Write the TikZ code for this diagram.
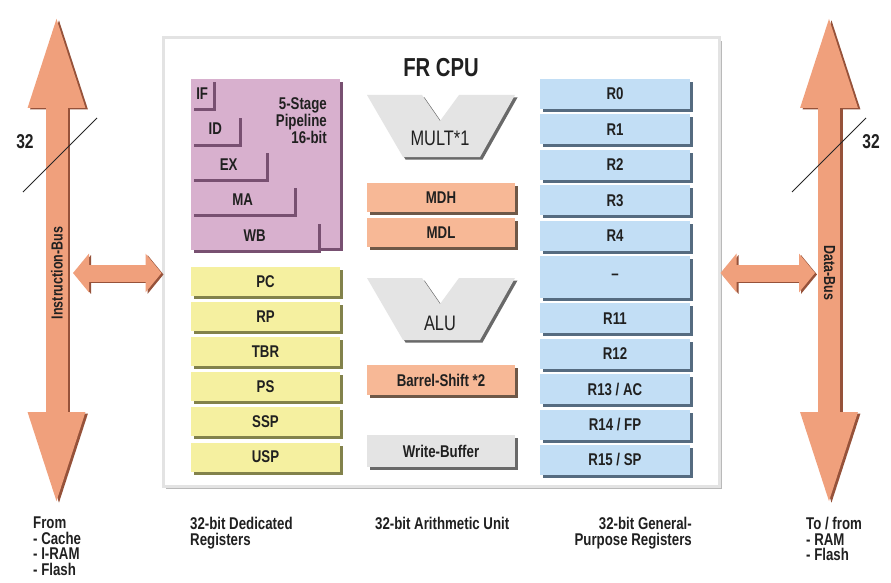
\documentclass[tikz,border=0pt]{standalone}
\usepackage{fontspec}
\newfontfamily\condfont{Liberation Sans}[FakeStretch=0.78]
\usepackage{tikz}
\usetikzlibrary{positioning,arrows.meta,shadows,calc}

\definecolor{pipefill}{RGB}{216,176,206}
\definecolor{pipeedge}{RGB}{120,80,113}
\definecolor{dedfill}{RGB}{245,240,160}
\definecolor{dededge}{RGB}{130,130,75}
\definecolor{aritfill}{RGB}{247,184,150}
\definecolor{aritedge}{RGB}{110,88,72}
\definecolor{gprfill}{RGB}{194,222,245}
\definecolor{gpredge}{RGB}{85,107,128}
\definecolor{unitfill}{RGB}{228,228,228}
\definecolor{unitedge}{RGB}{105,105,105}
\definecolor{busfill}{RGB}{240,160,124}
\definecolor{busedge}{RGB}{150,82,58}
\definecolor{txt}{RGB}{32,32,32}

\tikzset{
  lab/.style={font=\condfont\bfseries\fontsize{17}{17}\selectfont, text=txt},
  note/.style={lab, font=\condfont\bfseries\fontsize{17}{15.5}\selectfont, align=left, anchor=north west, inner sep=0pt},
  cpubox/.style={fill=white, draw=gray!22, line width=3pt, minimum width=556pt, minimum height=448pt,
    drop shadow={shadow xshift=3pt, shadow yshift=-3pt, opacity=1, fill=gray!55}},
  pipe/.style={lab, fill=pipefill, minimum height=29pt, inner sep=0pt,
    drop shadow={shadow xshift=3pt, shadow yshift=-3pt, opacity=1, fill=pipeedge}},
  ded/.style={lab, fill=dedfill, minimum width=149pt, minimum height=29pt, inner sep=0pt,
    drop shadow={shadow xshift=3pt, shadow yshift=-3pt, opacity=1, fill=dededge}},
  arit/.style={lab, fill=aritfill, minimum width=148pt, minimum height=29pt, inner sep=0pt,
    drop shadow={shadow xshift=3pt, shadow yshift=-3pt, opacity=1, fill=aritedge}},
  unit/.style={lab, fill=unitfill, minimum width=148pt, minimum height=32pt, inner sep=0pt,
    drop shadow={shadow xshift=3pt, shadow yshift=-3pt, opacity=1, fill=unitedge}},
  gpr/.style={lab, fill=gprfill, minimum width=150pt, minimum height=30pt, inner sep=0pt,
    drop shadow={shadow xshift=3pt, shadow yshift=-3pt, opacity=1, fill=gpredge}},
  unitlab/.style={font=\condfont\fontsize{21}{21}\selectfont, text=txt},
  bus/.style={line width=22pt, color=busfill, {Triangle[width=50pt,length=98pt]}-{Triangle[width=50pt,length=98pt]}},
  link/.style={line width=17pt, color=busfill, {Triangle[width=38pt,length=16pt]}-{Triangle[width=38pt,length=16pt]}}
}

\begin{document}
\begin{tikzpicture}[x=1pt,y=-1pt]
  \useasboundingbox (0,0) rectangle (891,583);

  % CPU frame
  \node[cpubox] (cpu) at (441,262) {};
  \node[font=\condfont\bfseries\fontsize{26}{26}\selectfont, text=txt] (title) at (441,67.5) {FR CPU};

  % pipeline
  \node[pipe, minimum width=149pt, minimum height=169pt] (pipe) at (265.5,163.5) {};
  \node[pipe, minimum width=22pt, anchor=north west] (ifst) at (191,79) {IF};
  \node[pipe, minimum width=48pt, below right=6pt and 0pt of ifst.south west] (idst) {ID};
  \node[pipe, minimum width=75pt, below right=6pt and 0pt of idst.south west] (exst) {EX};
  \node[pipe, minimum width=103pt, below right=6pt and 0pt of exst.south west] (mast) {MA};
  \node[pipe, minimum width=127pt, below right=6pt and 0pt of mast.south west] (wbst) {WB};
  \node[lab, align=right, anchor=north east, inner sep=0pt, font=\condfont\bfseries\fontsize{17}{16.8}\selectfont] (pipetxt) at (327,97.5) {5-Stage\\Pipeline\\16-bit};

  % dedicated registers
  \node[ded] (pc) at (265.5,281.5) {PC};
  \node[ded, below=5.7pt of pc] (rp) {RP};
  \node[ded, below=5.7pt of rp] (tbr) {TBR};
  \node[ded, below=5.7pt of tbr] (ps) {PS};
  \node[ded, below=5.7pt of ps] (ssp) {SSP};
  \node[ded, below=5.7pt of ssp] (usp) {USP};

  % arithmetic unit
  \fill[unitedge] (369.5,97.5) -- (424.5,97.5) -- (442.5,123.5) -- (461.5,97.5) -- (517.5,97.5) -- (482.5,159.5) -- (405.5,159.5) -- cycle;
  \fill[unitfill] (367,95) -- (422,95) -- (440,121) -- (459,95) -- (515,95) -- (480,157) -- (403,157) -- cycle;
  \node[unitlab] (mult) at (440,138) {MULT*1};
  \node[arit] (mdh) at (441,197.5) {MDH};
  \node[arit, below=6pt of mdh] (mdl) {MDL};
  \fill[unitedge] (369.5,280.5) -- (424.5,280.5) -- (442.5,306.5) -- (461.5,280.5) -- (517.5,280.5) -- (482.5,342.5) -- (405.5,342.5) -- cycle;
  \fill[unitfill] (367,278) -- (422,278) -- (440,304) -- (459,278) -- (515,278) -- (480,340) -- (403,340) -- cycle;
  \node[unitlab] (alu) at (440,323) {ALU};
  \node[arit, minimum height=30pt] (shift) at (441,380) {Barrel-Shift *2};
  \node[unit] (wbuf) at (441,451) {Write-Buffer};

  % general purpose registers
  \node[gpr] (r0) at (615,94) {R0};
  \node[gpr, below=5pt of r0] (r1) {R1};
  \node[gpr, below=5pt of r1] (r2) {R2};
  \node[gpr, below=5pt of r2] (r3) {R3};
  \node[gpr, below=5pt of r3] (r4) {R4};
  \node[gpr, minimum height=42pt, below=5pt of r4] (rmid) {\textendash};
  \node[gpr, below=5pt of rmid] (r11) {R11};
  \node[gpr, below=5pt of r11] (r12) {R12};
  \node[gpr, below=5pt of r12] (r13) {R13 / AC};
  \node[gpr, below=5pt of r13] (r14) {R14 / FP};
  \node[gpr, below=5pt of r14] (r15) {R15 / SP};

  % buses
  \coordinate (itop) at (56.5,10);
  \coordinate (ibot) at (56.5,510);
  \coordinate (dtop) at (829,10);
  \coordinate (dbot) at (829,510);
  \coordinate (ilink) at (73,273);
  \coordinate (dlink) at (815,273);
  \draw[bus, busedge] ($(itop)+(2.5,1.5)$) -- ($(ibot)+(2.5,1.5)$);
  \draw[bus] (itop) -- (ibot);
  \draw[bus, busedge] ($(dtop)+(2.5,1.5)$) -- ($(dbot)+(2.5,1.5)$);
  \draw[bus] (dtop) -- (dbot);
  \draw[link, busedge] ($(ilink)+(2,1.5)$) -- ($(ilink -| cpu.west)+(2,1.5)$);
  \draw[link] (ilink) -- (ilink -| cpu.west);
  \draw[link, busedge] ($(cpu.east |- dlink)+(2,1.5)$) -- ($(dlink)+(2,1.5)$);
  \draw[link] (cpu.east |- dlink) -- (dlink);
  \node[lab, rotate=90, font=\condfont\bfseries\fontsize{16}{16}\selectfont] (ibus) at (57,273) {Instruction-Bus};
  \node[lab, rotate=-90, font=\condfont\bfseries\fontsize{16}{16}\selectfont] (dbus) at (829.5,273) {Data-Bus};

  % bus widths
  \draw[line width=1pt, black!85] (23,192) -- (97,118);
  \draw[line width=1pt, black!85] (792,192) -- (866,118);
  \node[lab, font=\condfont\bfseries\fontsize{20}{20}\selectfont] (iwidth) at (25,142) {32};
  \node[lab, font=\condfont\bfseries\fontsize{20}{20}\selectfont] (dwidth) at (871,142) {32};

  % captions
  \node[note] (from) at (33,517) {From\\- Cache\\- I-RAM\\- Flash};
  \node[note] (dedlab) at (190,517) {32-bit Dedicated\\Registers};
  \node[note] (aritlab) at (375,517) {32-bit Arithmetic Unit};
  \node[note, align=right, anchor=north east] (gprlab) at (692,517) {32-bit General-\\Purpose Registers};
  \node[note] (tofrom) at (806,517) {To / from\\- RAM\\- Flash};
\end{tikzpicture}
\end{document}
